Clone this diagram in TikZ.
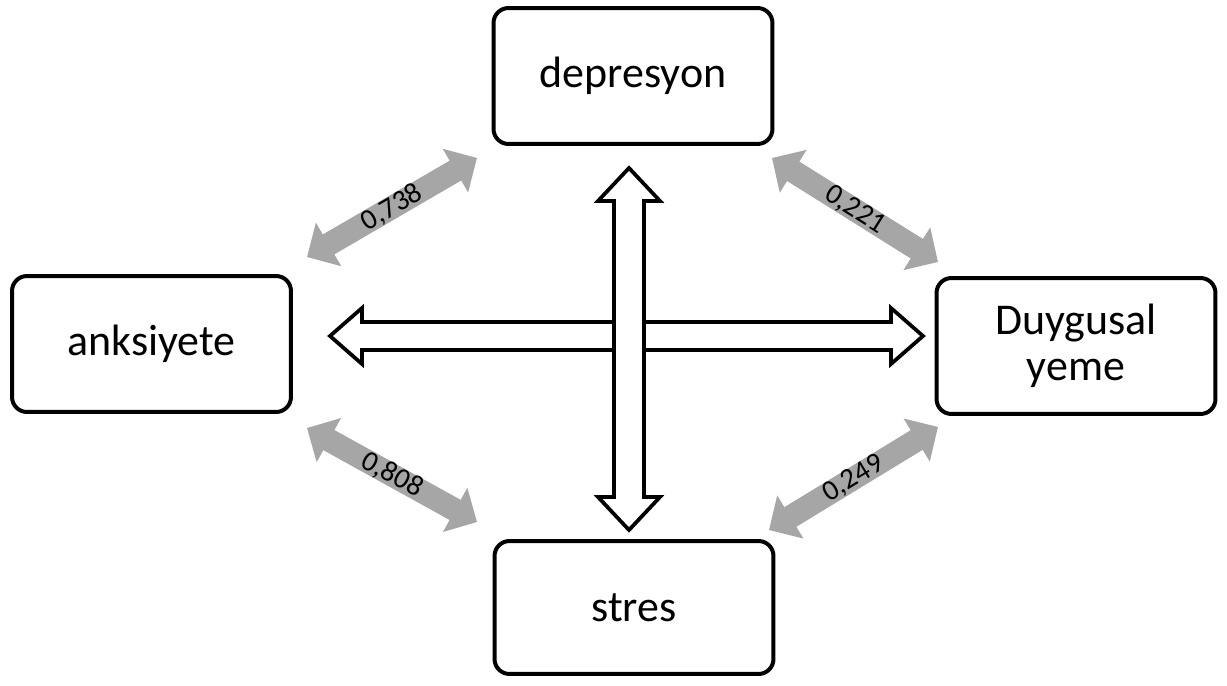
\documentclass[tikz,border=0pt]{standalone}
\usepackage{fontspec}
\setmainfont{Carlito}
\usetikzlibrary{arrows.meta}
\definecolor{arrgray}{RGB}{166,166,166}
\tikzset{
  box/.style={draw=black, line width=0.08cm, rounded corners=0.3cm, fill=white,
    minimum width=5.58cm, minimum height=2.72cm, align=center,
    font=\fontsize{25}{26}\selectfont, inner sep=0pt},
  grayarr/.style={draw=arrgray, line width=0.46cm,
    {Triangle[width=0.98cm,length=0.5cm]}-{Triangle[width=0.98cm,length=0.5cm]}},
  lbl/.style={midway, sloped, font=\fontsize{16.5}{18}\selectfont, inner sep=0pt, text=black},
  hollow/.style={draw=black, fill=white, line width=0.075cm, line join=miter}
}
\begin{document}
\begin{tikzpicture}[x=0.02cm,y=-0.02cm]
\useasboundingbox (0,0) rectangle (1227,686);
% boxes
\node[box] (dep) at (633,76) {depresyon};
\node[box] (anx) at (151.5,344) {anksiyete};
\node[box] (duy) at (1076,346) {Duygusal\\yeme};
\node[box, minimum height=2.66cm] (str) at (634,607.5) {stres};
% hollow double arrows (horizontal below, vertical on top)
\coordinate (hl) at (330,336);
\coordinate (hr) at (923,336);
\coordinate (vt) at (629,168);
\coordinate (vb) at (629,530);
\draw[hollow] (hl) -- ++(32,-28) -- ++(0,14) -- ++(529,0) -- ++(0,-14) -- (hr)
  -- ++(-32,28) -- ++(0,-14) -- ++(-529,0) -- ++(0,14) -- cycle;
\draw[hollow] (vt) -- ++(31,33) -- ++(-16,0) -- ++(0,296) -- ++(16,0) -- (vb)
  -- ++(-31,-33) -- ++(16,0) -- ++(0,-296) -- ++(-16,0) -- cycle;
% gray correlation arrows
\coordinate (a1) at (307,257);
\coordinate (b1) at (477,158);
\coordinate (a2) at (772,158);
\coordinate (b2) at (938,262);
\coordinate (a3) at (307,428);
\coordinate (b3) at (477,522);
\coordinate (a4) at (769,530);
\coordinate (b4) at (938,427);
\draw[grayarr] (a1) -- node[lbl]{0,738} (b1);
\draw[grayarr] (a2) -- node[lbl]{0,221} (b2);
\draw[grayarr] (a3) -- node[lbl]{0,808} (b3);
\draw[grayarr] (a4) -- node[lbl]{0,249} (b4);
\end{tikzpicture}
\end{document}
